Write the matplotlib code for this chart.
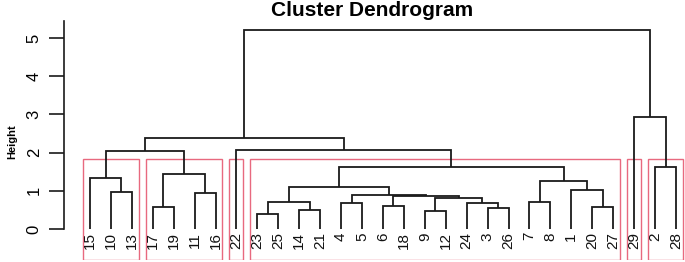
import matplotlib
matplotlib.use("Agg")
from matplotlib import pyplot as plt
from matplotlib.patches import Rectangle

plt.rcParams['font.family'] = ['Liberation Sans', 'DejaVu Sans']

# leaf order as drawn, left to right
leaf_labels = ['15', '10', '13', '17', '19', '11', '16', '22', '23', '25', '14', '21',
               '4', '5', '6', '18', '9', '12', '24', '3', '26', '7', '8', '1', '20',
               '27', '29', '2', '28']

# merges: (left child, right child, height); 'mN' refers to the N-th merge
merges = [
    ('10', '13', 0.97),    # m0
    ('15', 'm0', 1.33),    # m1
    ('17', '19', 0.57),    # m2
    ('11', '16', 0.95),    # m3
    ('m2', 'm3', 1.44),    # m4
    ('m1', 'm4', 2.04),    # m5
    ('23', '25', 0.39),    # m6
    ('14', '21', 0.50),    # m7
    ('m6', 'm7', 0.72),    # m8
    ('4', '5', 0.68),      # m9
    ('6', '18', 0.60),     # m10
    ('9', '12', 0.47),     # m11
    ('3', '26', 0.55),     # m12
    ('24', 'm12', 0.68),   # m13
    ('m11', 'm13', 0.81),  # m14
    ('m10', 'm14', 0.86),  # m15
    ('m9', 'm15', 0.89),   # m16
    ('m8', 'm16', 1.10),   # m17
    ('7', '8', 0.72),      # m18
    ('20', '27', 0.58),    # m19
    ('1', 'm19', 1.02),    # m20
    ('m18', 'm20', 1.26),  # m21
    ('m17', 'm21', 1.63),  # m22
    ('22', 'm22', 2.07),   # m23
    ('m5', 'm23', 2.38),   # m24
    ('2', '28', 1.62),     # m25
    ('29', 'm25', 2.93),   # m26
    ('m24', 'm26', 5.21),  # m27
]

# cluster sizes for rect.hclust(k=6), in leaf order
cluster_sizes = [3, 4, 1, 18, 1, 2]
k = len(cluster_sizes)

fig = plt.figure(figsize=(6.85, 2.62), dpi=100)
ax = fig.add_axes([64 / 685, 2 / 262, 1 - 64 / 685, 245 / 262])

# positions of nodes
pos = {}
for i, lab in enumerate(leaf_labels):
    pos[lab] = (i + 1, 0.0)

for n, (a, b, h) in enumerate(merges):
    xa, ha = pos[a]
    xb, hb = pos[b]
    ax.plot([xa, xa, xb, xb], [ha, h, h, hb], color='#1a1a1a', lw=1.3,
            solid_capstyle='butt', solid_joinstyle='miter')
    pos['m%d' % n] = ((xa + xb) / 2, h)

for i, lab in enumerate(leaf_labels):
    ax.text(i + 1, -0.08, lab, rotation=90, ha='center', va='top', fontsize=11,
            color='#111111')

ax.set_xlim(-0.24, 29.43)
ax.set_ylim(-0.81, 5.6)

# red boxes like rect.hclust
heights = sorted([m[2] for m in merges], reverse=True)
rect_top = (heights[k - 2] + heights[k - 1]) / 2
bottom = -0.80
start = 0
for size in cluster_sizes:
    x0 = start + 0.66
    x1 = start + size + 0.33
    ax.add_patch(Rectangle((x0, bottom), x1 - x0, rect_top - bottom, fill=False,
                           edgecolor='#e8697f', lw=1.0))
    start += size

for s in ['top', 'right', 'bottom']:
    ax.spines[s].set_visible(False)
ax.spines['left'].set_bounds(0, 5.45)
ax.spines['left'].set_linewidth(1.2)
ax.spines['left'].set_color('#1a1a1a')
ax.set_xticks([])
ax.set_yticks([0, 1, 2, 3, 4, 5])
ax.tick_params(axis='y', length=11, width=1.2, pad=5, labelsize=12, color='#1a1a1a')
for t in ax.get_yticklabels():
    t.set_rotation(90)
    t.set_va('center')

fig.text(12 / 685, 1 - 142 / 262, 'Height', rotation=90, ha='center', va='center',
         fontsize=8, fontweight='bold')
fig.text(372 / 685, 1 - 1 / 262, 'Cluster Dendrogram', ha='center', va='top',
         fontsize=15, fontweight='bold')

fig.savefig('out.png', dpi=100)
